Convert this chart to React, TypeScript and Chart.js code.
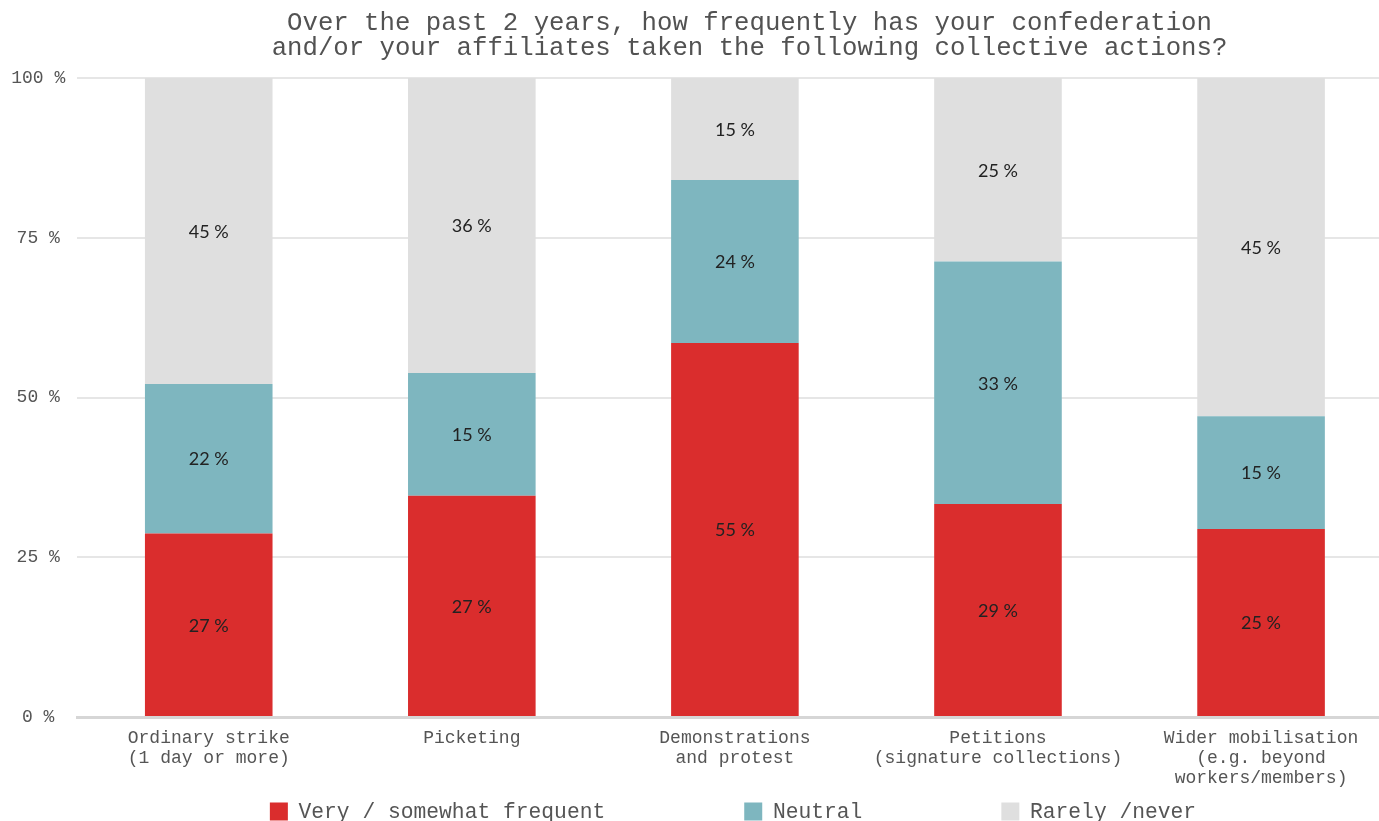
import React, { useEffect, useRef } from 'react';
import { Chart, registerables } from 'chart.js';

Chart.register(...registerables);

const titleLines = [
  'Over the past 2 years, how frequently has your confederation',
  'and/or your affiliates taken the following collective actions?',
];
const categories = [
  ['Ordinary strike', '(1 day or more)'],
  ['Picketing'],
  ['Demonstrations', 'and protest'],
  ['Petitions', '(signature collections)'],
  ['Wider mobilisation', '(e.g. beyond', 'workers/members)'],
];
const seriesNames = ['Very / somewhat frequent', 'Neutral', 'Rarely /never'];
const veryFrequent = [27, 27, 55, 29, 25];
const neutral = [22, 15, 24, 33, 15];
const rarelyNever = [45, 36, 15, 25, 45];
const seriesColors = ['#DA2D2D', '#7EB6BF', '#DFDFDF'];
const yTickValues = [0, 25, 50, 75, 100];

const MONO = "'Liberation Mono', 'DejaVu Sans Mono', monospace";
const SANS = "Lato, 'Noto Sans', sans-serif";

const rawSeries = [veryFrequent, neutral, rarelyNever];
const totals = categories.map((_, i) => rawSeries.reduce((s, r) => s + r[i], 0));
const shareSeries = rawSeries.map((r) => r.map((v, i) => (v / totals[i]) * 100));

const titlePlugin = {
  id: 'customTitle',
  afterDraw(chart: any) {
    const ctx = chart.ctx;
    ctx.save();
    ctx.font = `25.7px ${MONO}`;
    ctx.fillStyle = '#525252';
    ctx.textAlign = 'center';
    ctx.textBaseline = 'middle';
    titleLines.forEach((line, i) => ctx.fillText(line, 749.5, 23 + i * 24.8));
    ctx.restore();
  },
};

const legendPlugin = {
  id: 'customLegend',
  afterDraw(chart: any) {
    const ctx = chart.ctx;
    const fontSize = 21.3;
    const box = 18;
    const gap = fontSize / 2;
    const spacing = 139;
    ctx.save();
    ctx.font = `${fontSize}px ${MONO}`;
    const widths = chart.data.datasets.map((d: any) => box + gap + ctx.measureText(d.label).width);
    const total = widths.reduce((s: number, w: number) => s + w, 0) + spacing * (widths.length - 1);
    let x = chart.width / 2 - total / 2;
    const yc = 812.5;
    chart.data.datasets.forEach((d: any, i: number) => {
      ctx.fillStyle = d.backgroundColor;
      ctx.fillRect(x, yc - box / 2 - 1, box, box);
      ctx.fillStyle = '#555555';
      ctx.textAlign = 'left';
      ctx.textBaseline = 'middle';
      ctx.fillText(d.label, x + box + gap, yc);
      x += widths[i] + spacing;
    });
    ctx.restore();
  },
};

const valueLabelPlugin = {
  id: 'valueLabels',
  afterDatasetsDraw(chart: any) {
    const ctx = chart.ctx;
    ctx.save();
    ctx.font = `18px ${SANS}`;
    ctx.fillStyle = '#222222';
    ctx.textAlign = 'center';
    ctx.textBaseline = 'middle';
    chart.data.datasets.forEach((d: any, di: number) => {
      const meta = chart.getDatasetMeta(di);
      meta.data.forEach((el: any, i: number) => {
        const yMid = (el.y + el.base) / 2 + 1;
        ctx.fillText(`${d.rawValues[i]} %`, el.x, yMid);
      });
    });
    ctx.restore();
  },
};

export default function App() {
  const canvasRef = useRef<HTMLCanvasElement | null>(null);

  useEffect(() => {
    const canvas = canvasRef.current;
    if (!canvas) return;
    const chart = new Chart(canvas, {
      type: 'bar',
      data: {
        labels: categories,
        datasets: seriesNames.map((name, k) => ({
          label: name,
          data: shareSeries[k],
          rawValues: rawSeries[k],
          backgroundColor: seriesColors[k],
          borderWidth: 0,
          barPercentage: 0.485,
          categoryPercentage: 1,
        })) as any,
      },
      options: {
        animation: false,
        responsive: false,
        devicePixelRatio: 1,
        layout: { padding: { top: 78, right: 73.4, bottom: 34, left: 0 } },
        plugins: {
          legend: { display: false },
          title: { display: false },
          tooltip: { enabled: false },
        },
        scales: {
          x: {
            stacked: true,
            grid: { display: false, drawTicks: false },
            border: { display: true, color: '#D6D6D6', width: 3 },
            ticks: {
              color: '#555555',
              font: { family: MONO, size: 18, lineHeight: 1.11 },
              padding: 11,
              maxRotation: 0,
              autoSkip: false,
            },
            afterFit: (scale: any) => {
              scale.height = 70;
            },
          },
          y: {
            stacked: true,
            min: 0,
            max: 100,
            afterBuildTicks: (scale: any) => {
              scale.ticks = yTickValues.map((v) => ({ value: v }));
            },
            grid: { color: '#E6E6E6', lineWidth: 2, drawTicks: false },
            border: { display: false },
            ticks: {
              color: '#555555',
              font: { family: MONO, size: 18 },
              padding: 12,
              crossAlign: 'center',
              callback: (v: any) => `${v} %`,
            },
            afterFit: (scale: any) => {
              scale.width = 77.2;
            },
          },
        },
      } as any,
      plugins: [valueLabelPlugin, titlePlugin, legendPlugin],
    });
    return () => chart.destroy();
  }, []);

  return (
    <div
      style={{
        position: 'fixed',
        left: 0,
        top: 0,
        width: 1379,
        height: 821,
        overflow: 'hidden',
        background: '#ffffff',
      }}
    >
      <canvas ref={canvasRef} width={1466} height={821} style={{ display: 'block', width: 1466, height: 821 }} />
    </div>
  );
}
